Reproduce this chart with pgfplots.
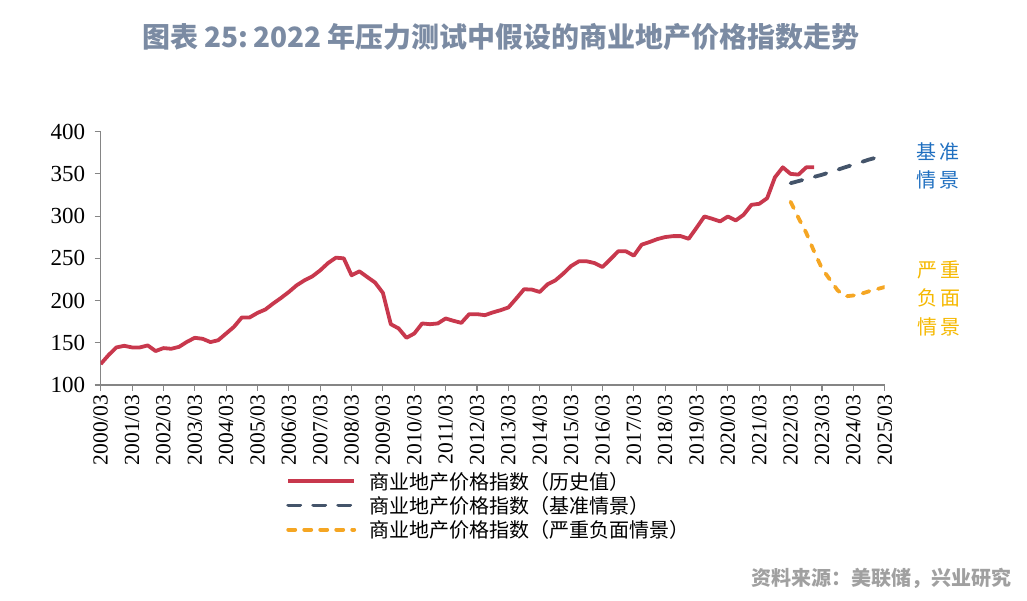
\documentclass[border=0pt]{standalone}
\usepackage{fontspec}
\usepackage{pgfplots}
\pgfplotsset{compat=1.18}
\setmainfont{Liberation Serif}
\newfontfamily\cjk{Noto Sans CJK SC}
\definecolor{histred}{HTML}{C8384D}
\definecolor{basenavy}{HTML}{44546A}
\definecolor{sevorange}{HTML}{F5A623}
\definecolor{titlecol}{HTML}{7B8BA3}
\definecolor{srccol}{HTML}{A0A0A0}
\definecolor{bluelab}{HTML}{1F6FC0}
\definecolor{goldlab}{HTML}{F5B800}
\definecolor{axgray}{HTML}{858585}
\begin{document}
\begin{tikzpicture}[x=1pt,y=1pt]
\useasboundingbox (0,0) rectangle (1027,601);
\begin{axis}[
  at={(100.7pt,216pt)}, anchor=south west,
  width=784pt, height=253.3pt, scale only axis,
  xmin=0, xmax=100, ymin=100, ymax=400,
  axis x line*=bottom, axis y line*=left,
  axis line style={axgray, line width=1.3pt},
  tick style={axgray, line width=1.1pt},
  tick align=outside, major tick length=6pt,
  xtick={0,4,...,100},
  xticklabels={2000/03,2001/03,2002/03,2003/03,2004/03,2005/03,2006/03,2007/03,2008/03,2009/03,2010/03,2011/03,2012/03,2013/03,2014/03,2015/03,2016/03,2017/03,2018/03,2019/03,2020/03,2021/03,2022/03,2023/03,2024/03,2025/03},
  x tick label style={rotate=90, anchor=east, font=\fontsize{21.5}{21.5}\selectfont},
  ytick={100,150,...,400},
  y tick label style={font=\fontsize{23}{23}\selectfont, xshift=-6pt},
  /pgf/number format/assume math mode=true,
  legend image code/.code={\draw[#1] (0pt,0pt) -- (66pt,0pt); \path (77pt,0pt);},
  legend style={draw=none, fill=none, at={(0.2365,-0.335)}, anchor=north west,
    font=\cjk\fontsize{20}{21}\selectfont, inner sep=0pt, row sep=1.5pt},
  legend cell align=left,
]
\addplot[histred, line width=3.8pt, line join=round] coordinates {
(0,124.8)(1,135.4)(2,144.5)(3,146.4)(4,144.5)(5,144.5)(6,146.9)(7,140.2)(8,143.7)(9,142.9)
(10,145.2)(11,151.1)(12,155.9)(13,154.7)(14,150.8)(15,153.1)(16,161)(17,168.9)(18,180)(19,180)
(20,185.4)(21,189.4)(22,196.5)(23,203.1)(24,210.2)(25,218.1)(26,224)(27,228.7)(28,235.8)(29,244.4)
(30,250.8)(31,250)(32,229.9)(33,234.6)(34,227.9)(35,221.3)(36,209)(37,172)(38,167)(39,155.9)
(40,161)(41,172.9)(42,172)(43,172.9)(44,178.8)(45,176)(46,173.6)(47,183.9)(48,183.9)(49,182.7)
(50,185.9)(51,188.6)(52,191.8)(53,202.4)(54,213.4)(55,213)(56,210.2)(57,219.3)(58,224)(59,231.9)
(60,240.9)(61,246.5)(62,246.5)(63,244.4)(64,239.7)(65,248.8)(66,258.3)(67,258.3)(68,253.2)(69,266.2)
(70,269.3)(71,272.8)(72,275.2)(73,276.3)(74,276.3)(75,273.2)(76,286.2)(77,299.6)(78,296.9)(79,293.7)
(80,299.6)(81,294.9)(82,301.6)(83,313.4)(84,314.6)(85,321.2)(86,346)(87,357.8)(88,350)(89,349.2)
(90,357.8)(91,357.8)
};
\addlegendentry{商业地产价格指数（历史值）}
\addplot[basenavy, line width=3.8pt, line cap=round, dash pattern=on 12pt off 13pt] coordinates {
(88,339)(89,341.5)(90,344)(91,346.5)(92,349)(93,352)(94,355)(95,358)(96,361)(97,364)(98,367)(99,369.5)(100,372)
};
\addlegendentry{商业地产价格指数（基准情景）}
\addplot[sevorange, line width=3.8pt, line cap=round, line join=round, dash pattern=on 7pt off 9pt] coordinates {
(88,317)(89,298)(90,280)(91,258)(92,238)(93,225)(94,212)(95,205)(96,206)(97,208)(98,211)(99,213.5)(100,216)
};
\addlegendentry{商业地产价格指数（严重负面情景）}
\end{axis}
\node[font=\cjk\bfseries\fontsize{28}{28}\selectfont, text=titlecol] at (501,564) {图表 25:\,2022 年压力测试中假设的商业地产价格指数走势};
\node[font=\cjk\bfseries\fontsize{20}{20}\selectfont, text=srccol, anchor=east] at (1015,23) {资料来源：美联储，兴业研究};
\begin{scope}[every node/.style={font=\cjk\fontsize{20}{20}\selectfont, inner sep=0pt}]
\node[text=bluelab] at (938,449) {基\hspace{3pt}准};
\node[text=bluelab] at (938,421) {情\hspace{3pt}景};
\node[text=goldlab] at (939,331) {严\hspace{3pt}重};
\node[text=goldlab] at (939,303) {负\hspace{3pt}面};
\node[text=goldlab] at (939,274) {情\hspace{3pt}景};
\end{scope}
\end{tikzpicture}
\end{document}
